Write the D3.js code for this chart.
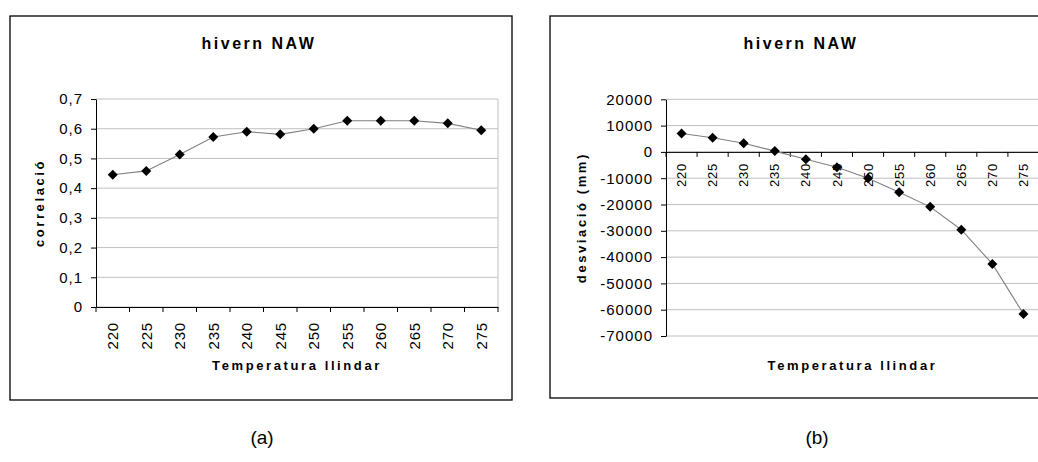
<!DOCTYPE html>
<html>
<head>
<meta charset="utf-8">
<script src="https://cdn.jsdelivr.net/npm/d3@7"></script>
<style>
  body { margin: 0; background: #fff; }
  svg { display: block; }
</style>
</head>
<body>
<svg id="chart" width="1038" height="462"></svg>
<script>
const temps = ['220', '225', '230', '235', '240', '245', '250', '255', '260', '265', '270', '275']
const correlacio = [0.445, 0.458, 0.513, 0.572, 0.590, 0.581, 0.600, 0.627, 0.627, 0.627, 0.618, 0.595]
const desviacio = [7000, 5400, 3300, 300, -2800, -5800, -10000, -15300, -20900, -29600, -42600, -61600]
const corrTicks = [0, 0.1, 0.2, 0.3, 0.4, 0.5, 0.6, 0.7]
const desvTicks = [20000, 10000, 0, -10000, -20000, -30000, -40000, -50000, -60000, -70000]

const FONT = "'Liberation Sans', Arial, sans-serif"
const svg = d3.select('#chart')

function drawPanel (cfg) {
  const g = svg.append('g')

  // outer frame
  g.append('rect')
    .attr('x', cfg.frame[0]).attr('y', cfg.frame[1])
    .attr('width', cfg.frame[2]).attr('height', cfg.frame[3])
    .attr('fill', '#fff').attr('stroke', '#000').attr('stroke-width', 1.3)

  const x = d3.scaleBand().domain(temps).range([cfg.left, cfg.right])
  const y = d3.scaleLinear().domain(cfg.domain).range([cfg.bottom, cfg.top])

  // gridlines + right border of plot area
  g.append('g').selectAll('line')
    .data(cfg.ticks)
    .join('line')
    .attr('x1', cfg.left).attr('x2', cfg.right)
    .attr('y1', d => y(d)).attr('y2', d => y(d))
    .attr('stroke', '#c0c0c0').attr('stroke-width', 1)
  g.append('line')
    .attr('x1', cfg.right).attr('x2', cfg.right)
    .attr('y1', cfg.top).attr('y2', cfg.bottom)
    .attr('stroke', '#c0c0c0')

  // y axis
  const yAxis = d3.axisLeft(y)
    .tickValues(cfg.ticks)
    .tickSize(5)
    .tickSizeOuter(0)
    .tickPadding(8)
    .tickFormat(cfg.fmt)
  const ya = g.append('g')
    .attr('transform', `translate(${cfg.left},0)`)
    .call(yAxis)
  ya.selectAll('text')
    .style('font-family', FONT).style('font-size', '15px')
    .style('letter-spacing', '1px').attr('fill', '#000')

  // x axis (at value cfg.base)
  const y0 = y(cfg.base)
  const xa = g.append('g')
    .attr('transform', `translate(0,${y0})`)
    .call(d3.axisBottom(x).tickSize(0).tickSizeOuter(0))
  xa.selectAll('text')
    .attr('transform', 'rotate(-90)')
    .attr('text-anchor', 'end')
    .attr('x', -cfg.labelGap)
    .attr('y', 0)
    .attr('dy', '0.35em')
    .style('font-family', FONT).style('font-size', cfg.xFont + 'px')
    .style('letter-spacing', cfg.xSpacing + 'px').attr('fill', '#000')

  // tick marks sit on the category boundaries
  const bounds = temps.map(d => x(d)).concat([x.range()[1]])
  xa.selectAll('.bound')
    .data(bounds)
    .join('line')
    .attr('class', 'bound')
    .attr('x1', d => d).attr('x2', d => d)
    .attr('y1', 0).attr('y2', 5)
    .attr('stroke', '#000')

  // series
  const line = d3.line()
    .x((d, i) => x(temps[i]) + x.bandwidth() / 2)
    .y(d => y(d))
  g.append('path')
    .datum(cfg.values)
    .attr('d', line)
    .attr('fill', 'none')
    .attr('stroke', '#808080')
    .attr('stroke-width', 1.1)

  g.append('g').selectAll('path')
    .data(cfg.values)
    .join('path')
    .attr('d', d3.symbol(d3.symbolSquare, 50))
    .attr('transform', (d, i) => `translate(${x(temps[i]) + x.bandwidth() / 2},${y(d)}) rotate(45)`)
    .attr('fill', '#000')

  // titles
  g.append('text')
    .attr('x', cfg.titleX).attr('y', 49)
    .attr('text-anchor', 'middle')
    .style('font-family', FONT).style('font-size', '16px').style('font-weight', 'bold')
    .style('letter-spacing', '2.5px')
    .text('hivern NAW')

  g.append('text')
    .attr('x', (cfg.left + cfg.right) / 2).attr('y', 370)
    .attr('text-anchor', 'middle')
    .style('font-family', FONT).style('font-size', '13px').style('font-weight', 'bold')
    .style('letter-spacing', '2.6px')
    .text('Temperatura llindar')

  g.append('text')
    .attr('transform', `translate(${cfg.yTitleX},${(cfg.top + cfg.bottom) / 2}) rotate(-90)`)
    .attr('text-anchor', 'middle')
    .style('font-family', FONT).style('font-size', '13px').style('font-weight', 'bold')
    .style('letter-spacing', '2.6px')
    .text(cfg.yTitle)

  svg.append('text')
    .attr('x', cfg.captionX).attr('y', 444)
    .attr('text-anchor', 'middle')
    .style('font-family', FONT).style('font-size', '19px')
    .text(cfg.caption)
}

drawPanel({
  frame: [10, 16, 502, 384],
  left: 96, right: 498, top: 99, bottom: 307,
  domain: [0, 0.7], ticks: corrTicks, base: 0,
  fmt: d => d === 0 ? '0' : d3.format('.1f')(d).replace('.', ','),
  values: correlacio,
  labelGap: 15, xFont: 15, xSpacing: 0.8,
  titleX: 259, yTitleX: 44, yTitle: 'correlació',
  captionX: 262, caption: '(a)'
})

drawPanel({
  frame: [550, 16, 502, 382],
  left: 666, right: 1039, top: 99.3, bottom: 336,
  domain: [-70000, 20000], ticks: desvTicks, base: 0,
  fmt: d => String(d),
  values: desviacio,
  labelGap: 11, xFont: 13, xSpacing: 0.8,
  titleX: 801, yTitleX: 586, yTitle: 'desviació (mm)',
  captionX: 817, caption: '(b)'
})
</script>
</body>
</html>
